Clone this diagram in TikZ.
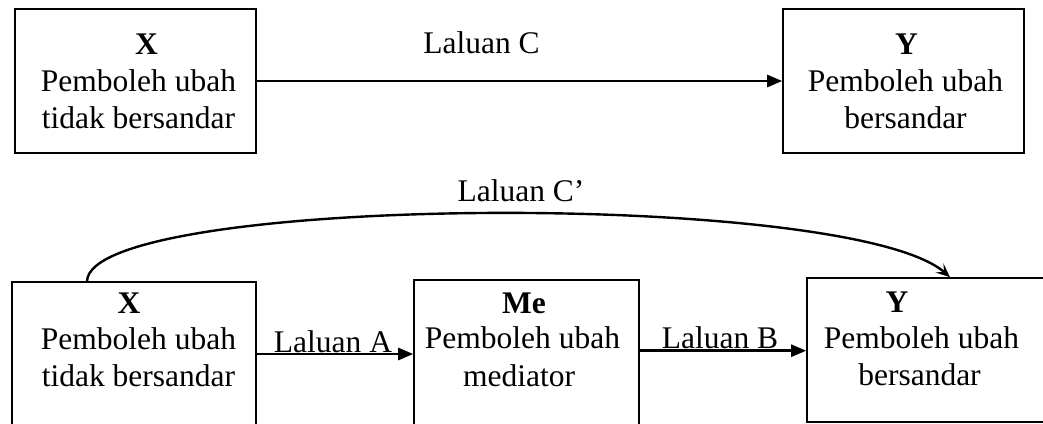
\documentclass[tikz,border=0pt]{standalone}
\usepackage{fontspec}
\setmainfont{Liberation Serif}
\usetikzlibrary{arrows.meta,calc}

\tikzset{
  box/.style={draw=black, line width=1.6pt, rectangle, inner sep=0pt},
  txt/.style={anchor=base, inner sep=0pt, font=\fontsize{31.5}{36}\selectfont},
  head/.style={txt, font=\fontsize{31.5}{36}\selectfont\bfseries},
  arr/.style={line width=2.6pt, -{Triangle[length=15pt,width=12pt]}},
  curvearr/.style={line width=2.4pt, -{Stealth[length=14pt,width=12pt,inset=6pt]}},
}

\begin{document}
\begin{tikzpicture}[x=1pt,y=-1pt]
\useasboundingbox (0,0) rectangle (1043,423);
\clip (0,0) rectangle (1043,423);

% ---- direct effect (top row) ----
\node[box, minimum width=241pt, minimum height=144pt] (tx) at (135.5,81) {};
\node[box, minimum width=241pt, minimum height=144pt] (ty) at (903.5,81) {};

\node[head] (txh) at (146.5,54) {X};
\node[txt]  (txa) at (138.5,91.5) {Pemboleh ubah};
\node[txt]  (txb) at (138.5,128) {tidak bersandar};

\node[head] (tyh) at (906.5,54) {Y};
\node[txt]  (tya) at (905.5,91.5) {Pemboleh ubah};
\node[txt]  (tyb) at (905.5,128) {bersandar};

\draw[arr] (tx) -- (ty);
\node[txt] (lc) at (481.5,53.3) {Laluan C};

% ---- mediated model (bottom row) ----
\node[box, minimum width=244pt, minimum height=158pt] (bx) at (134,361) {};
\node[box, minimum width=225pt, minimum height=160pt] (me) at (526.5,360) {};
\node[box, minimum width=253pt, minimum height=144pt] (by) at (933.5,350) {};

\node[head] (bxh) at (129,313.3) {X};
\node[txt]  (bxa) at (138.5,349) {Pemboleh ubah};
\node[txt]  (bxb) at (138.5,386) {tidak bersandar};

\node[head] (meh) at (524,313) {Me};
\node[txt]  (mea) at (522.5,348.5) {Pemboleh ubah};
\node[txt]  (meb) at (519,386) {mediator};

\node[head] (byh) at (897,312.7) {Y};
\node[txt]  (bya) at (921.5,348.3) {Pemboleh ubah};
\node[txt]  (byb) at (919.5,385) {bersandar};

\draw[arr] ([yshift=7pt]bx.east) -- ([yshift=7pt]bx.east -| me.west);
\node[txt] (la) at (333,352) {Laluan A};

\draw[arr] ([yshift=9.3pt]me.east) -- ([yshift=9.3pt]me.east -| by.west);
\node[txt] (lb) at (720,348.3) {Laluan B};

\draw[curvearr] ([xshift=-47pt]bx.north)
  .. controls ($([xshift=-44pt]bx.north)+(0,-87)$) and ($([xshift=-83.5pt]by.north)+(0,-88)$)
  .. ([xshift=16.5pt]by.north);
\node[txt] (lcp) at (521,201.7) {Laluan C’};
\end{tikzpicture}
\end{document}
